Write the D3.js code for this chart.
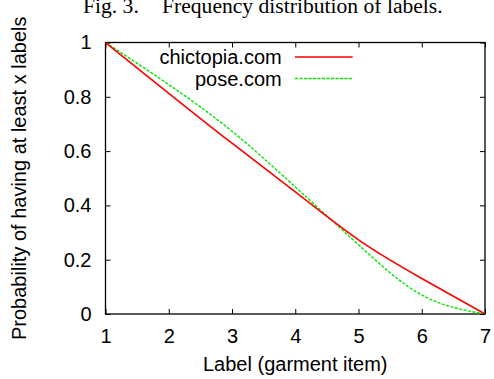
<!DOCTYPE html>
<html lang="en">
<head>
    <meta charset="UTF-8">
    <title>Frequency distribution of labels</title>
    <script src="https://d3js.org/d3.v7.min.js"></script>
    <style>
        body { margin: 0; background: #fff; }
        svg { display: block; }
        .sans { font-family: "Liberation Sans", Arial, sans-serif; font-size: 20px; fill: #000; }
        .serif { font-family: "Liberation Serif", "Times New Roman", serif; font-size: 21.6px; fill: #000; }
    </style>
</head>
<body>
    <div id="chart"></div>
    <script>
        // Data
        const labelCounts = [1, 2, 3, 4, 5, 6, 7];
        const chictopia = [1, 0.813, 0.629, 0.45, 0.273, 0.131, 0];
        const pose = [1, 0.845, 0.673, 0.468, 0.255, 0.07, 0];
        const yTicks = [0, 0.2, 0.4, 0.6, 0.8, 1];
        const seriesNames = ["chictopia.com", "pose.com"];

        const width = 494, height = 379;
        const plotLeft = 105.5, plotRight = 485, plotTop = 42.5, plotBottom = 314;

        const svg = d3.select("#chart").append("svg")
            .attr("width", width)
            .attr("height", height);

        const x = d3.scaleLinear().domain([1, 7]).range([plotLeft, plotRight]);
        const y = d3.scaleLinear().domain([0, 1]).range([plotBottom, plotTop]);

        svg.append("clipPath").attr("id", "plot-clip")
            .append("rect")
            .attr("x", plotLeft).attr("y", plotTop)
            .attr("width", plotRight - plotLeft).attr("height", plotBottom - plotTop);

        // caption (cut off at the top in the original)
        svg.append("text").attr("class", "serif")
            .attr("x", 83).attr("y", 13)
            .text("Fig. 3.");
        svg.append("text").attr("class", "serif")
            .attr("x", 162).attr("y", 13)
            .text("Frequency distribution of labels.");

        // axes, ticks pointing inwards on all four sides
        const fmt = d => d3.format("~g")(d);
        const gx = svg.append("g")
            .attr("transform", `translate(0,${plotBottom})`)
            .call(d3.axisBottom(x).tickValues(labelCounts).tickSize(-5).tickPadding(15).tickFormat(fmt));
        const gy = svg.append("g")
            .attr("transform", `translate(${plotLeft},0)`)
            .call(d3.axisLeft(y).tickValues(yTicks).tickSize(-5).tickPadding(14).tickFormat(fmt));
        const gt = svg.append("g")
            .attr("transform", `translate(0,${plotTop})`)
            .call(d3.axisTop(x).tickValues(labelCounts).tickSize(-5).tickFormat(""));
        const gr = svg.append("g")
            .attr("transform", `translate(${plotRight},0)`)
            .call(d3.axisRight(y).tickValues(yTicks).tickSize(-5).tickFormat(""));

        [gx, gy, gt, gr].forEach(g => {
            g.attr("font-size", null).attr("font-family", null);
            g.select(".domain").remove();
            g.selectAll("line").attr("stroke", "#000").attr("stroke-width", 1);
            g.selectAll("text").attr("class", "sans");
        });

        svg.append("rect")
            .attr("x", plotLeft).attr("y", plotTop)
            .attr("width", plotRight - plotLeft).attr("height", plotBottom - plotTop)
            .attr("fill", "none")
            .attr("stroke", "#000")
            .attr("stroke-width", 1.3);

        // curves (smoothed like gnuplot csplines)
        const line = d3.line()
            .x((d, i) => x(labelCounts[i]))
            .y(d => y(d))
            .curve(d3.curveNatural);

        const curves = svg.append("g").attr("clip-path", "url(#plot-clip)");

        curves.append("path")
            .datum(pose)
            .attr("d", line)
            .attr("fill", "none")
            .attr("stroke", "#00e600")
            .attr("stroke-width", 1.4)
            .attr("stroke-dasharray", "3,1.5");

        curves.append("path")
            .datum(chictopia)
            .attr("d", line)
            .attr("fill", "none")
            .attr("stroke", "#ff0000")
            .attr("stroke-width", 1.6);

        // legend
        const legend = [
            { name: seriesNames[0], color: "#ff0000", dash: null, w: 1.6, y: 57 },
            { name: seriesNames[1], color: "#00e600", dash: "3,1.5", w: 1.4, y: 78.5 }
        ];
        legend.forEach(d => {
            svg.append("text").attr("class", "sans")
                .attr("x", 281.7).attr("y", d.y)
                .attr("dy", "0.35em")
                .attr("text-anchor", "end")
                .text(d.name);
            svg.append("line")
                .attr("x1", 295).attr("x2", 352.7)
                .attr("y1", d.y).attr("y2", d.y)
                .attr("stroke", d.color)
                .attr("stroke-width", d.w)
                .attr("stroke-dasharray", d.dash);
        });

        // axis titles
        svg.append("text").attr("class", "sans")
            .attr("x", (plotLeft + plotRight) / 2).attr("y", 371)
            .attr("text-anchor", "middle")
            .text("Label (garment item)");
        svg.append("text").attr("class", "sans")
            .attr("transform", `translate(26,${(plotTop + plotBottom) / 2}) rotate(-90)`)
            .attr("text-anchor", "middle")
            .text("Probability of having at least x labels");
    </script>
</body>
</html>
